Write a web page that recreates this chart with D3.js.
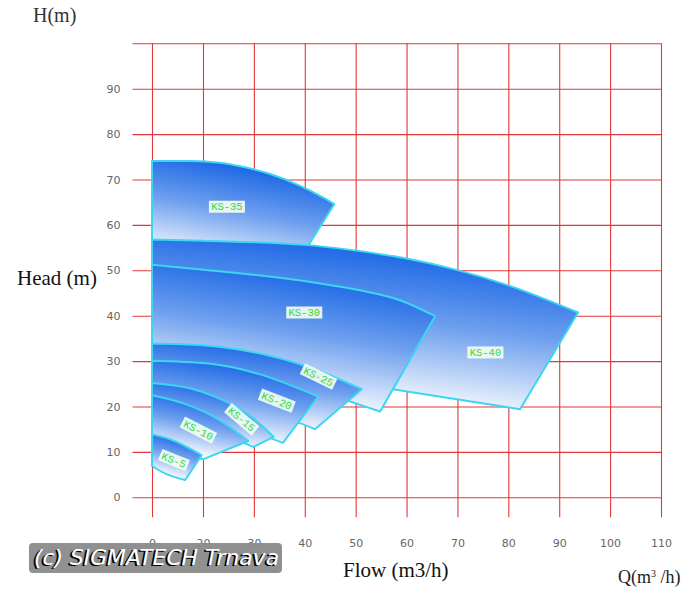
<!DOCTYPE html>
<html>
<head>
<meta charset="utf-8">
<script src="https://cdn.jsdelivr.net/npm/d3@7"></script>
<style>
  html, body { margin: 0; padding: 0; background: #ffffff; }
  svg { display: block; }
</style>
</head>
<body>
<script>
// ---------- data ----------
const xTickValues = [0, 20, 30, 40, 50, 60, 70, 80, 90, 100, 110];
const yTickValues = [0, 10, 20, 30, 40, 50, 60, 70, 80, 90, 100];
const yTickLabels = ["0", "10", "20", "30", "40", "50", "60", "70", "80", "90", ""];

const pumpNames = ["KS-35", "KS-40", "KS-30", "KS-25", "KS-20", "KS-15", "KS-10", "KS-5"];

// [Q m3/h, H m] along the upper (max) curve, left to right
const ks35Top = [[0, 74.1], [14.9, 74.1], [23.3, 73.7], [27.3, 72.9], [33.2, 71.2], [39.1, 68.6], [43.0, 66.4], [45.8, 64.6]];
const ks40Top = [[0, 56.8], [20, 56.5], [40, 55.6], [48.9, 54.5], [60, 52.6], [69.8, 50.1], [79.7, 46.8], [93.7, 40.7]];
const ks30Top = [[0, 51.2], [20, 50.1], [29.2, 49.1], [43.0, 47.1], [50.8, 45.6], [58.7, 43.4], [65.6, 39.9]];
const ks25Top = [[0, 33.9], [20, 33.5], [27.3, 32.5], [40.4, 28.8], [51.2, 23.8]];
const ks20Top = [[0, 30.1], [20.7, 29.5], [30.5, 27.3], [42.6, 22.2]];
const ks15Top = [[0, 25.2], [14.9, 24.0], [22.7, 22.0], [29.2, 18.0], [33.9, 13.3]];
const ks10Top = [[0, 22.5], [12.3, 20.7], [22.7, 17.4], [28.9, 12.4]];
const ks5Top  = [[0, 13.9], [7.1, 12.8], [19.5, 9.3]];

// [Q m3/h, H m] along the lower (min) curve, left to right
const ks35Bottom = [[0, 52.0], [20, 51.5], [37.1, 49.0]];
const ks40Bottom = [[0, 29.0], [39.1, 26.9], [57.3, 23.8], [77.7, 20.2], [82.3, 19.4]];
const ks30Bottom = [[0, 28.0], [39.1, 24.7], [48.9, 21.1], [54.8, 18.9]];
const ks25Bottom = [[0, 22.0], [37.1, 17.0], [42.0, 15.0]];
const ks20Bottom = [[0, 19.2], [31.1, 13.8], [35.7, 12.0]];
const ks15Bottom = [[0, 15.9], [23.3, 13.7], [29.9, 11.1]];
const ks10Bottom = [[0, 11.5], [20.1, 8.4]];
const ks5Bottom  = [[0, 6.9], [5.7, 5.1], [13.0, 3.8]];

// label anchor [Q, H]
const labelQ = [24.7, 75.5, 39.9, 42.7, 34.5, 27.6, 18.2, 8.6];
const labelH = [64.0, 31.9, 40.7, 26.6, 21.3, 17.2, 14.8, 8.2];

// ---------- build ----------
const tops = [ks35Top, ks40Top, ks30Top, ks25Top, ks20Top, ks15Top, ks10Top, ks5Top];
const bottoms = [ks35Bottom, ks40Bottom, ks30Bottom, ks25Bottom, ks20Bottom, ks15Bottom, ks10Bottom, ks5Bottom];
const labelRot = [0, 0, 0, 26, 21, 40, 27, 22];

const pumps = pumpNames.map((n, i) => ({
  name: n, top: tops[i], bottom: bottoms[i], lq: labelQ[i], lh: labelH[i], rot: labelRot[i]
}));

const W = 695, H = 600;
const x = d3.scaleLinear().domain([0, 20, 110]).range([152, 203, 661]);
const y = d3.scaleLinear().domain([0, 100]).range([497.3, 43.3]);

const svg = d3.select("body").append("svg").attr("width", W).attr("height", H);

const defs = svg.append("defs");
const grad = defs.append("linearGradient").attr("id", "shade")
  .attr("x1", 0.62).attr("y1", 0).attr("x2", 0.32).attr("y2", 1);
grad.append("stop").attr("offset", 0).attr("stop-color", "#0b5be4");
grad.append("stop").attr("offset", 0.45).attr("stop-color", "#6d9fee");
grad.append("stop").attr("offset", 0.92).attr("stop-color", "#ffffff");

const red = "#e0383a";
const gridBottom = y(0) + 20;

// vertical grid lines + x tick labels via axis
const xAxis = svg.append("g")
  .attr("transform", `translate(0,${gridBottom})`)
  .call(d3.axisBottom(x).tickValues(xTickValues)
    .tickSize(-(gridBottom - y(100)))
    .tickPadding(21.5)
    .tickFormat(d3.format("d")));
xAxis.select(".domain").remove();
xAxis.selectAll(".tick line").attr("stroke", red).attr("stroke-width", 1.1);
xAxis.selectAll(".tick text")
  .attr("font-family", "DejaVu Sans, sans-serif").attr("font-size", 11).attr("fill", "#666");

// horizontal grid lines + y tick labels via axis
const gridLeft = x(0) - 19.5;
const yAxis = svg.append("g")
  .attr("transform", `translate(${x(110)},0)`)
  .call(d3.axisLeft(y).tickValues(yTickValues)
    .tickSize(x(110) - gridLeft)
    .tickPadding(12)
    .tickFormat((d, i) => yTickLabels[i]));
yAxis.select(".domain").remove();
yAxis.selectAll(".tick line").attr("stroke", red).attr("stroke-width", 1.1);
yAxis.selectAll(".tick text")
  .attr("font-family", "DejaVu Sans, sans-serif").attr("font-size", 11).attr("fill", "#666");

// pump regions
const upperCurve = d3.line().x(d => x(d[0])).y(d => y(d[1])).curve(d3.curveMonotoneX);
const lowerCurve = d3.line().x(d => x(d[0])).y(d => y(d[1])).curve(d3.curveCatmullRom.alpha(0.5));
function regionPath(p) {
  const upper = upperCurve(p.top);
  const lower = lowerCurve(p.bottom.slice().reverse()).replace(/^M/, "L");
  return upper + lower + "Z";
}

svg.append("g").selectAll("path").data(pumps).join("path")
  .attr("d", regionPath)
  .attr("fill", "url(#shade)")
  .attr("stroke", "#3ad6f2")
  .attr("stroke-width", 2)
  .attr("stroke-linejoin", "round");

// labels
const lbl = svg.append("g").selectAll("g").data(pumps).join("g")
  .attr("transform", d => `translate(${x(d.lq)},${y(d.lh)}) rotate(${d.rot})`);
lbl.append("rect")
  .attr("x", d => -d.name.length * 3.2 - 2).attr("y", -6)
  .attr("width", d => d.name.length * 6.4 + 4).attr("height", 12)
  .attr("fill", "#f4fff4").attr("opacity", 0.9);
lbl.append("text")
  .attr("text-anchor", "middle").attr("dy", "0.35em")
  .attr("font-family", "Liberation Mono, monospace").attr("font-size", 10.5)
  .attr("fill", "#38d838")
  .text(d => d.name);

// axis titles
svg.append("text").attr("x", 33).attr("y", 22)
  .attr("font-family", "Liberation Serif, serif").attr("font-size", 20).attr("fill", "#333")
  .text("H(m)");
svg.append("text").attr("x", 17).attr("y", 285)
  .attr("font-family", "Liberation Serif, serif").attr("font-size", 21).attr("fill", "#111")
  .text("Head (m)");
svg.append("text").attr("x", 343).attr("y", 577)
  .attr("font-family", "Liberation Serif, serif").attr("font-size", 21).attr("fill", "#111")
  .text("Flow (m3/h)");
const q = svg.append("text").attr("x", 618).attr("y", 583)
  .attr("font-family", "Liberation Serif, serif").attr("font-size", 18).attr("fill", "#222");
q.append("tspan").text("Q(m");
q.append("tspan").attr("font-size", 10).attr("dy", -6).text("3");
q.append("tspan").attr("dy", 6).text(" /h)");

// watermark
const wm = svg.append("g");
wm.append("rect").attr("x", 29).attr("y", 543).attr("width", 253).attr("height", 30)
  .attr("rx", 4).attr("fill", "#8a8a8a").attr("opacity", 0.95);
wm.append("text").attr("x", 32).attr("y", 566)
  .attr("font-family", "DejaVu Sans, sans-serif").attr("font-style", "italic")
  .attr("font-size", 22).attr("fill", "#000")
  .attr("textLength", 245).attr("lengthAdjust", "spacingAndGlyphs")
  .text("(c) SIGMATECH Trnava");
wm.append("text").attr("x", 34).attr("y", 565)
  .attr("font-family", "DejaVu Sans, sans-serif").attr("font-style", "italic")
  .attr("font-size", 22).attr("fill", "#fff")
  .attr("textLength", 245).attr("lengthAdjust", "spacingAndGlyphs")
  .text("(c) SIGMATECH Trnava");
</script>
</body>
</html>
